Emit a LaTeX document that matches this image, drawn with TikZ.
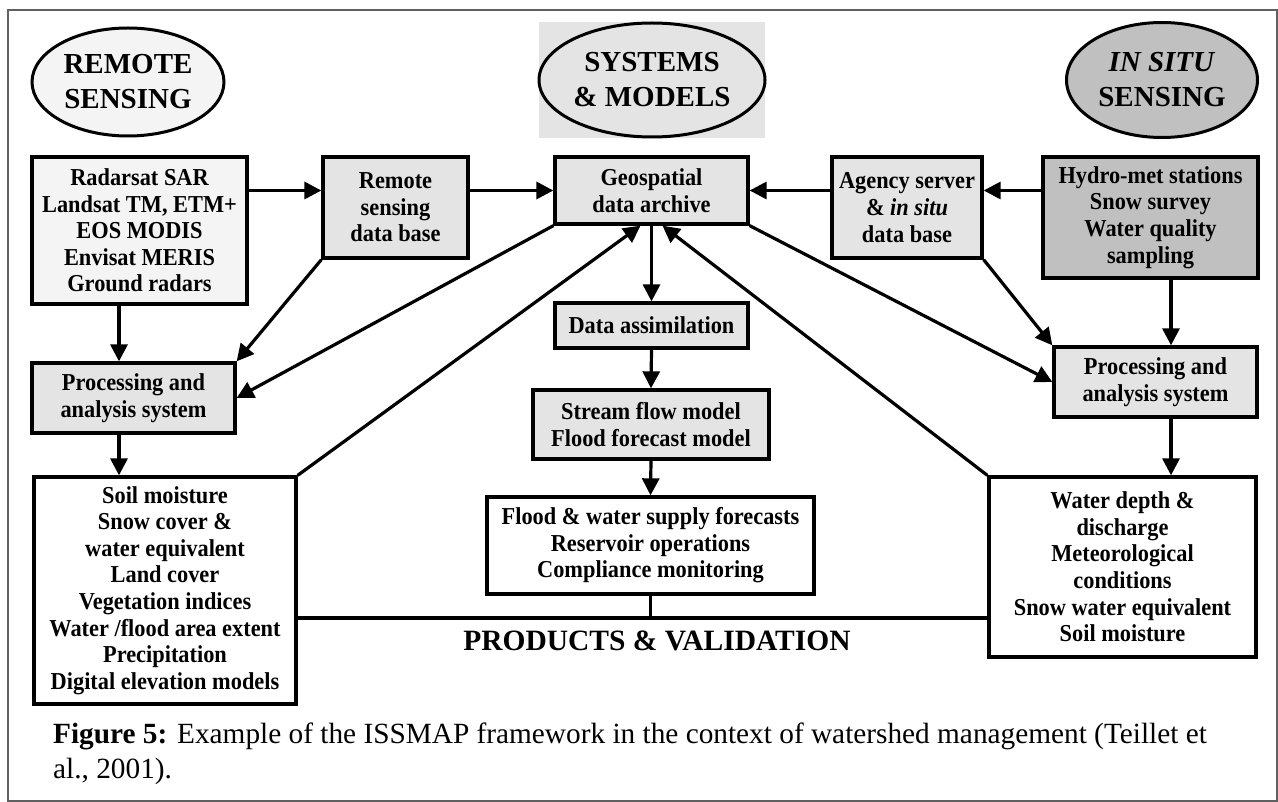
\documentclass[tikz,border=0pt]{standalone}
\usepackage{fontspec}
\setmainfont{Liberation Serif}
\newfontfamily\diafont{Liberation Serif}[FakeStretch=0.92]
\usetikzlibrary{arrows.meta,calc,shapes.geometric}
\definecolor{marble}{HTML}{E4E4E4}
\definecolor{lightbox}{HTML}{F4F4F4}
\definecolor{grayfill}{HTML}{C0C0C0}
\definecolor{framegray}{HTML}{606060}
\begin{document}
\begin{tikzpicture}[x=1pt,y=-1pt,
  box/.style={draw, line width=3.3pt, inner sep=0pt, align=center, font=\diafont\bfseries\fontsize{24.3}{26.6}\selectfont},
  marblebox/.style={box, fill=marble},
  head/.style={ellipse, draw, line width=3pt, inner sep=0pt, align=center, font=\bfseries\fontsize{29}{35}\selectfont},
  arr/.style={line width=3.2pt, -{Triangle[length=17pt,width=17pt]}},
  conn/.style={line width=3.2pt},
  label/.style={inner sep=0pt, font=\bfseries\fontsize{29.5}{35}\selectfont},
  captxt/.style={inner sep=0pt, anchor=base west, font=\fontsize{29.3}{35}\selectfont}
]
\useasboundingbox (0,0) rectangle (1278,802);
\draw[framegray, line width=1.2pt] (8,10) rectangle (1277,801);

% headings
\node[head, fill=lightbox, minimum width=192pt, minimum height=108pt] (rs) at (128,82) {REMOTE\\SENSING};
\node[fill=marble, inner sep=0pt, minimum width=226pt, minimum height=116pt] (sysbg) at (652,80) {};
\node[head, fill=marble, minimum width=226pt, minimum height=114pt] (sys) at (652,80) {SYSTEMS\\\& MODELS};
\node[head, fill=grayfill, minimum width=191pt, minimum height=115pt] (insitu) at (1162,80) {\textit{IN SITU}\\SENSING};

% boxes
\node[box, fill=lightbox, minimum width=215pt, minimum height=147pt] (rad) at (139.5,230.5) {Radarsat SAR\\Landsat TM, ETM+\\EOS MODIS\\Envisat MERIS\\Ground radars};
\node[marblebox, minimum width=145pt, minimum height=101pt] (rsdb) at (395.5,207.5) {Remote\\sensing\\data base};
\node[marblebox, minimum width=193pt, minimum height=67pt] (geo) at (651.5,190.5) {Geospatial\\data archive};
\node[marblebox, minimum width=150pt, minimum height=101pt] (agency) at (907,207.5) {Agency server\\\& \textit{in situ}\\data base};
\node[box, fill=grayfill, minimum width=215pt, minimum height=121pt] (hydro) at (1150.5,217.5) {Hydro-met stations\\Snow survey\\Water quality\\sampling};
\node[marblebox, minimum width=203pt, minimum height=70pt] (procL) at (133.5,398) {Processing and\\analysis system};
\node[marblebox, minimum width=203pt, minimum height=70pt] (procR) at (1155.5,382) {Processing and\\analysis system};
\node[marblebox, minimum width=193pt, minimum height=45pt] (assim) at (651.5,325.5) {Data assimilation};
\node[marblebox, minimum width=236pt, minimum height=69pt] (stream) at (651,424.5) {Stream flow model\\Flood forecast model};
\node[box, fill=white, minimum width=327pt, minimum height=97pt] (flood) at (650.5,545.5) {Flood \& water supply forecasts\\Reservoir operations\\Compliance monitoring};
\node[box, fill=white, minimum width=262pt, minimum height=227pt] (soil) at (165,590.5) {Soil moisture\\Snow cover \&\\water equivalent\\Land cover\\Vegetation indices\\Water /flood area extent\\Precipitation\\Digital elevation models};
\node[box, fill=white, minimum width=267pt, minimum height=180pt] (water) at (1122.5,567) {Water depth \&\\discharge\\Meteorological\\conditions\\Snow water equivalent\\Soil moisture};

\node[label] (prod) at (657,641) {PRODUCTS \& VALIDATION};

% helper coordinates
\coordinate (cL) at (119,0);
\coordinate (cR) at (1171,0);
\coordinate (hl) at (0,618);

% connectors
\draw[arr] (rad.east |- geo.center) -- (rsdb.west |- geo.center);
\draw[arr] (rsdb.east |- geo.center) -- (geo.west);
\draw[arr] (hydro.west |- geo.center) -- (agency.east |- geo.center);
\draw[arr] (agency.west |- geo.center) -- (geo.east);
\draw[arr] (rad.south -| cL) -- (procL.north -| cL);
\draw[arr] (procL.south -| cL) -- (soil.north -| cL);
\draw[arr] (rsdb.south west) -- (procL.north east);
\draw[arr] (geo.south west) -- (procL.east);
\draw[arr] (soil.north east) -- ($(geo.south)+(-11,0)$);
\draw[arr] (geo.south) -- (assim.north);
\draw[arr] (assim.south) -- (stream.north);
\draw[arr] (stream.south) -- (flood.north);
\draw[arr] (geo.south east) -- (procR.west);
\draw[arr] (agency.south east) -- (procR.north west);
\draw[arr] (hydro.south -| cR) -- (procR.north -| cR);
\draw[arr] (water.north west) -- ($(geo.south)+(11,0)$);
\draw[arr] (procR.south -| cR) -- (water.north -| cR);
\draw[conn] (soil.east |- hl) -- (water.west |- hl);
\draw[conn] (flood.south) -- (flood.south |- hl);

% caption
\node[captxt] (cap1) at (53,743) {\textbf{Figure 5:} Example of the ISSMAP framework in the context of watershed management (Teillet et};
\node[captxt] (cap2) at (53,778) {al., 2001).};
\end{tikzpicture}
\end{document}
